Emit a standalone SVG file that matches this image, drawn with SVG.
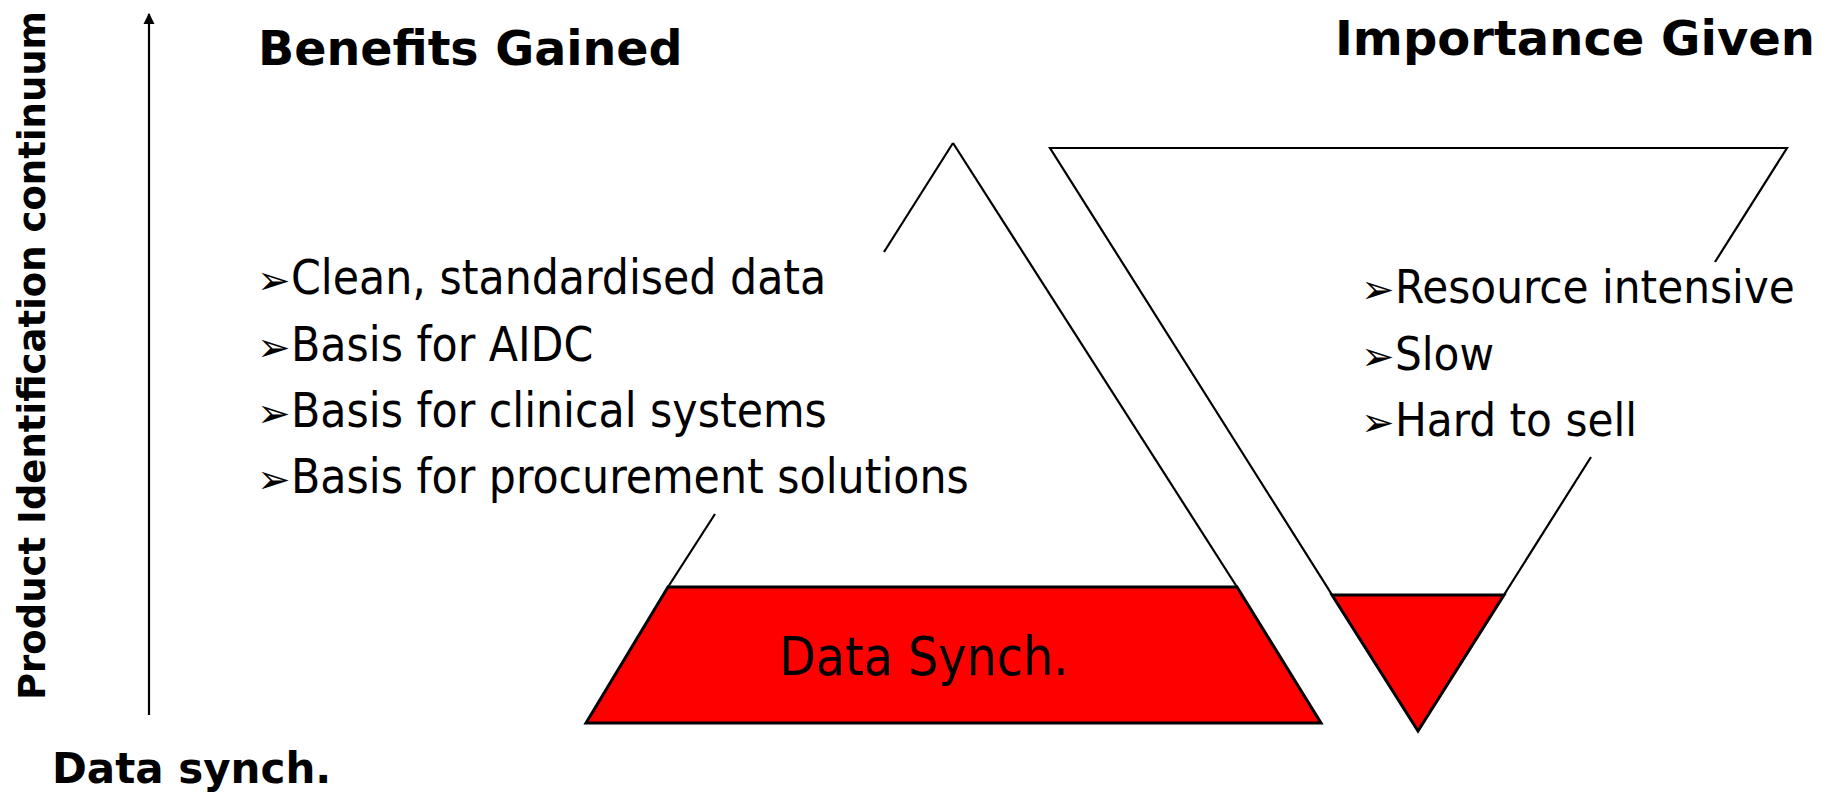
<svg xmlns="http://www.w3.org/2000/svg" width="1837" height="799" viewBox="0 0 1837 799">
<defs>
<style>
.head{font-family:"DejaVu Sans","Liberation Sans",sans-serif;font-weight:bold;fill:#000}
.body{font-family:"DejaVu Sans Condensed","DejaVu Sans","Liberation Sans",sans-serif;font-stretch:condensed;fill:#000}
.bul{font-family:"DejaVu Sans",sans-serif;fill:#000;font-size:40px}
.edge{fill:none;stroke:#000;stroke-width:2.2;stroke-linecap:butt}
.red{fill:#FF0000;stroke:#000;stroke-width:3;stroke-linejoin:miter}
</style>
<marker id="ah" viewBox="0 0 10 10" refX="9" refY="5" markerWidth="5" markerHeight="6" markerUnits="strokeWidth" orient="auto">
<path d="M0,0 L10,5 L0,10 z" fill="#000"/>
</marker>
</defs>
<rect width="1837" height="799" fill="#fff"/>

<g id="connectors">
<line x1="149" y1="715" x2="149" y2="14" stroke="#000" stroke-width="2.2" marker-end="url(#ah)"/>
</g>

<g id="axis-label">
<text class="head" font-size="37" transform="translate(45,700) rotate(-90)">Product Identification continuum</text>
</g>
<g id="bottom-label">
<text class="head" font-size="42" x="52" y="783">Data synch.</text>
</g>

<g id="benefits-title">
<text class="head" font-size="47.5" x="258" y="65">Benefits Gained</text>
</g>
<g id="importance-title">
<text class="head" font-size="48" x="1335" y="55">Importance Given</text>
</g>

<g id="benefits-triangle">
<polygon points="953,143 1237,587 668,587" fill="#fff"/>
<polyline class="edge" points="953,143 1237,587"/>
<polyline class="edge" points="884,252 953,143"/>
<polyline class="edge" points="715,514 668,587"/>
</g>
<g id="data-synch-block">
<polygon class="red" points="668,587 1237,587 1321,723 586,723"/>
<text class="body" font-size="53" x="924" y="675" text-anchor="middle">Data Synch.</text>
</g>

<g id="importance-triangle">
<polyline class="edge" points="1715,262 1787,148 1050,148 1418,731 1591,457"/>
<polygon class="red" points="1332,595 1504,595 1418,731"/>
</g>

<g id="benefits-list">
<text class="bul" x="257" y="294">➢</text>
<text class="body" font-size="47.5" x="291" y="294">Clean, standardised data</text>
<text class="bul" x="257" y="361">➢</text>
<text class="body" font-size="47.5" x="291" y="361">Basis for AIDC</text>
<text class="bul" x="257" y="427">➢</text>
<text class="body" font-size="47.5" x="291" y="427">Basis for clinical systems</text>
<text class="bul" x="257" y="493">➢</text>
<text class="body" font-size="47.5" x="291" y="493">Basis for procurement solutions</text>
</g>

<g id="importance-list">
<text class="bul" x="1361" y="303">➢</text>
<text class="body" font-size="47" x="1395" y="303">Resource intensive</text>
<text class="bul" x="1361" y="370">➢</text>
<text class="body" font-size="47" x="1395" y="370">Slow</text>
<text class="bul" x="1361" y="436">➢</text>
<text class="body" font-size="47" x="1395" y="436">Hard to sell</text>
</g>
</svg>
